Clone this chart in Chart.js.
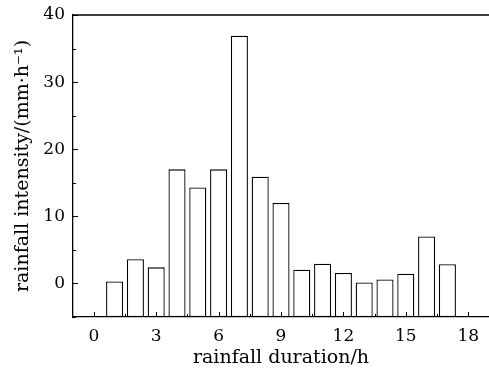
<!DOCTYPE html>
<html>
<head>
<meta charset="utf-8">
<script src="https://cdn.jsdelivr.net/npm/chart.js@4.4.1/dist/chart.umd.min.js"></script>
<style>
  html, body { margin: 0; padding: 0; background: #fff; }
  #wrap { width: 489px; height: 372px; }
</style>
</head>
<body>
<div id="wrap"><canvas id="rainChart" width="489" height="372"></canvas></div>
<script>
// rainfall duration (h) and intensity (mm/h)
const hours = [1, 2, 3, 4, 5, 6, 7, 8, 9, 10, 11, 12, 13, 14, 15, 16, 17];
const intensity = [0.3, 3.6, 2.4, 17.0, 14.3, 17.0, 36.9, 15.9, 12.0, 2.05, 2.95, 1.55, 0.15, 0.6, 1.45, 7.0, 2.85];

const xMajorTicks = [0, 3, 6, 9, 12, 15, 18];
const xMinorTicks = [1.5, 4.5, 7.5, 10.5, 13.5, 16.5];
const yMajorTicks = [0, 10, 20, 30, 40];
const yMinorTicks = [-5, 5, 15, 25, 35];

const serif = '"DejaVu Serif", "Liberation Serif", serif';

// inward tick marks + top frame line
const frameTicks = {
    id: 'frameTicks',
    afterDraw(chart) {
        const ctx = chart.ctx;
        const area = chart.chartArea;
        const xs = chart.scales.x;
        const ys = chart.scales.y;
        ctx.save();
        ctx.strokeStyle = '#000';
        ctx.lineWidth = 1.3;
        ctx.beginPath();
        ctx.moveTo(area.left, area.top);
        ctx.lineTo(area.right, area.top);
        ctx.stroke();

        ctx.lineWidth = 1;
        ctx.beginPath();
        xMajorTicks.forEach(v => {
            const px = Math.round(xs.getPixelForValue(v)) + 0.5;
            ctx.moveTo(px, area.bottom);
            ctx.lineTo(px, area.bottom - 5);
        });
        xMinorTicks.forEach(v => {
            const px = Math.round(xs.getPixelForValue(v)) + 0.5;
            ctx.moveTo(px, area.bottom);
            ctx.lineTo(px, area.bottom - 3);
        });
        yMajorTicks.forEach(v => {
            const py = Math.round(ys.getPixelForValue(v)) + 0.5;
            ctx.moveTo(area.left, py);
            ctx.lineTo(area.left + 5, py);
        });
        yMinorTicks.forEach(v => {
            const py = Math.round(ys.getPixelForValue(v)) + 0.5;
            ctx.moveTo(area.left, py);
            ctx.lineTo(area.left + 3, py);
        });
        ctx.stroke();
        ctx.restore();
    }
};

const ctx = document.getElementById('rainChart').getContext('2d');
new Chart(ctx, {
    type: 'bar',
    data: {
        datasets: [{
            data: hours.map((h, i) => ({ x: h, y: intensity[i] })),
            base: -5,
            backgroundColor: '#fff',
            borderColor: '#000',
            borderWidth: 1.3,
            borderSkipped: false,
            barPercentage: 0.82,
            categoryPercentage: 1
        }]
    },
    options: {
        responsive: false,
        animation: false,
        layout: { padding: { top: 15, right: 0, left: 0, bottom: 0 } },
        plugins: {
            legend: { display: false },
            tooltip: { enabled: false }
        },
        scales: {
            x: {
                type: 'linear',
                offset: false,
                min: -1,
                max: 19,
                grid: { display: false },
                border: { display: true, color: '#000', width: 1.3 },
                afterBuildTicks: scale => { scale.ticks = xMajorTicks.map(v => ({ value: v })); },
                afterFit: scale => { scale.height = 55; },
                ticks: {
                    color: '#000',
                    padding: 1,
                    maxRotation: 0,
                    font: { family: serif, size: 17 }
                },
                title: {
                    display: true,
                    text: 'rainfall duration/h',
                    color: '#000',
                    padding: { top: 0, bottom: 3 },
                    font: { family: serif, size: 19 }
                }
            },
            y: {
                min: -5,
                max: 40,
                grid: { display: false },
                border: { display: true, color: '#000', width: 1.3 },
                afterBuildTicks: scale => { scale.ticks = yMajorTicks.map(v => ({ value: v })); },
                afterFit: scale => { scale.width = 73; },
                ticks: {
                    color: '#000',
                    padding: 0,
                    font: { family: serif, size: 17 }
                },
                title: {
                    display: true,
                    text: 'rainfall intensity/(mm·h⁻¹)',
                    color: '#000',
                    padding: { top: 12, bottom: 0 },
                    font: { family: serif, size: 19 }
                }
            }
        }
    },
    plugins: [frameTicks]
});
</script>
</body>
</html>
